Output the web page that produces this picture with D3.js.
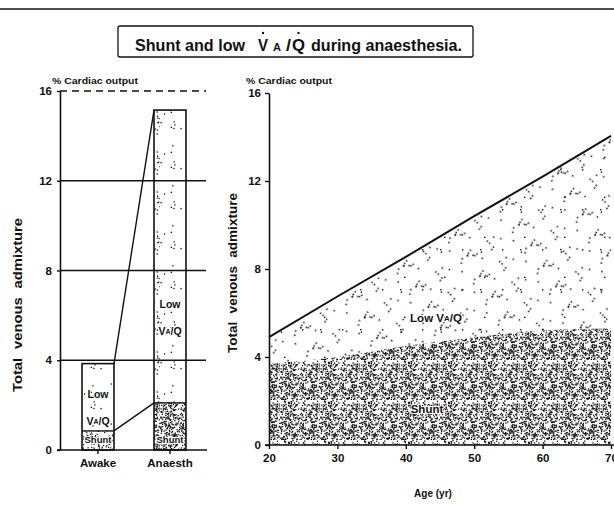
<!DOCTYPE html>
<html>
<head>
<meta charset="utf-8">
<script src="https://cdn.jsdelivr.net/npm/d3@7"></script>
<style>
  body { margin: 0; background: #fff; }
  text { font-family: "Liberation Sans", Arial, sans-serif; font-weight: bold; fill: #111; }
</style>
</head>
<body>
<div id="chart"></div>
<script>
// Left panel: awake vs anaesthetised, % of cardiac output
const categories = ['Awake', 'Anaesth'];
const shuntPct = [0.85, 2.1];
const totalPct = [3.85, 15.15];
const yTicks = [0, 4, 8, 12, 16];

// Right panel: venous admixture against age
const ages = [20, 30, 40, 50, 60, 70];
const shuntByAge = [3.7, 4.0, 4.5, 4.9, 5.2, 5.3];
const totalByAge = [4.9, 6.75, 8.55, 10.4, 12.2, 14.05];

const W = 614, H = 505;

const svg = d3.select('#chart')
  .append('svg')
  .attr('width', W)
  .attr('height', H);

svg.append('rect').attr('width', W).attr('height', H).attr('fill', '#fff');

const defs = svg.append('defs');

// Stipple textures for the shaded regions (fixed seed, texture only).
// When `streak` is set, most dots sit in a thin band so the tile
// repeats as diagonal streaks, like the original print.
function stipple(id, size, count, dot, seed, streak) {
  let s = seed;
  const rand = () => (s = (s * 16807) % 2147483647) / 2147483647;
  const p = defs.append('pattern')
    .attr('id', id)
    .attr('patternUnits', 'userSpaceOnUse')
    .attr('width', size)
    .attr('height', streak ? streak : size);
  if (streak) p.attr('patternTransform', 'rotate(-31)');
  for (let i = 0; i < count; i++) {
    const x = rand() * size;
    const y = streak ? (rand() < 0.8 ? rand() * 7 : rand() * streak) : rand() * size;
    p.append('rect')
      .attr('x', x).attr('y', y)
      .attr('width', dot).attr('height', dot)
      .attr('fill', '#111');
  }
}
stipple('sparse', 40, 20, 1.3, 12345);
stipple('sparseR', 40, 4, 1.4, 321);
stipple('streak', 60, 17, 1.5, 777, 24);
stipple('medium', 40, 180, 1.2, 4242);
stipple('dense', 40, 430, 1.3, 9001);

// top rule
svg.append('line')
  .attr('x1', 0).attr('x2', W).attr('y1', 9).attr('y2', 9)
  .attr('stroke', '#111').attr('stroke-width', 1.6);

// title box
svg.append('rect')
  .attr('x', 118).attr('y', 26).attr('width', 355).attr('height', 31)
  .attr('rx', 2)
  .attr('fill', 'none').attr('stroke', '#111').attr('stroke-width', 1.3);

const titleParts = [
  {t: 'Shunt and low', x: 135, w: 110, fs: 16},
  {t: 'V', x: 258, w: 10, fs: 16, dot: true},
  {t: 'A', x: 273, w: 8, fs: 10},
  {t: '/', x: 286, w: 5, fs: 16},
  {t: 'Q', x: 292, w: 13, fs: 16, dot: true},
  {t: 'during anaesthesia.', x: 311, w: 151, fs: 16},
];
titleParts.forEach(d => {
  svg.append('text')
    .attr('x', d.x).attr('y', 51)
    .attr('font-size', d.fs)
    .attr('textLength', d.w).attr('lengthAdjust', 'spacingAndGlyphs')
    .text(d.t);
  if (d.dot) {
    svg.append('circle')
      .attr('cx', d.x + d.w / 2).attr('cy', 33).attr('r', 1.2)
      .attr('fill', '#111');
  }
});

// helper for "VA/Q" labels with small A
function vaq(sel, x, y, fs) {
  return sel.append('text')
    .attr('x', x).attr('y', y)
    .attr('font-size', fs)
    .attr('text-anchor', 'middle')
    .attr('dominant-baseline', 'middle')
    .attr('stroke', '#fff').attr('stroke-width', 2).attr('paint-order', 'stroke');
}

// ---------------- Left panel ----------------
const yL = d3.scaleLinear().domain([0, 16]).range([450, 91]);
const xL = d3.scaleBand()
  .domain(categories)
  .range([62, 206])
  .paddingInner(0.556)
  .paddingOuter(0.278);

const left = svg.append('g');

// reference lines
left.selectAll('.grid')
  .data(yTicks.filter(v => v > 0))
  .enter()
  .append('line')
  .attr('x1', 60).attr('x2', 206)
  .attr('y1', d => yL(d)).attr('y2', d => yL(d))
  .attr('stroke', '#111')
  .attr('stroke-width', 1.3)
  .attr('stroke-dasharray', d => d === 16 ? '7,5' : null);

const bars = categories.map((c, i) => ({c, shunt: shuntPct[i], total: totalPct[i]}));

// low VA/Q part of each bar
left.selectAll('.low')
  .data(bars)
  .enter()
  .append('rect')
  .attr('x', d => xL(d.c))
  .attr('width', xL.bandwidth())
  .attr('y', d => yL(d.total))
  .attr('height', d => yL(d.shunt) - yL(d.total))
  .attr('fill', 'url(#sparse)');

// shunt part
left.selectAll('.shunt')
  .data(bars)
  .enter()
  .append('rect')
  .attr('x', d => xL(d.c))
  .attr('width', xL.bandwidth())
  .attr('y', d => yL(d.shunt))
  .attr('height', d => yL(0) - yL(d.shunt))
  .attr('fill', (d, i) => i === 0 ? 'url(#medium)' : 'url(#dense)');

// outlines
left.selectAll('.outline')
  .data(bars)
  .enter()
  .append('rect')
  .attr('x', d => xL(d.c))
  .attr('width', xL.bandwidth())
  .attr('y', d => yL(d.total))
  .attr('height', d => yL(0) - yL(d.total))
  .attr('fill', 'none')
  .attr('stroke', '#111')
  .attr('stroke-width', 1.6);

left.selectAll('.split')
  .data(bars)
  .enter()
  .append('line')
  .attr('x1', d => xL(d.c)).attr('x2', d => xL(d.c) + xL.bandwidth())
  .attr('y1', d => yL(d.shunt)).attr('y2', d => yL(d.shunt))
  .attr('stroke', '#111').attr('stroke-width', 1.4);

// connectors between the two bars
['total', 'shunt'].forEach(k => {
  left.append('line')
    .attr('x1', xL(bars[0].c) + xL.bandwidth()).attr('y1', yL(bars[0][k]))
    .attr('x2', xL(bars[1].c)).attr('y2', yL(bars[1][k]))
    .attr('stroke', '#111').attr('stroke-width', 1.4);
});

// labels inside the bars
const lowLabelAt = {Awake: 2.45, Anaesth: 6.45};
bars.forEach(d => {
  const cx = xL(d.c) + xL.bandwidth() / 2;
  vaq(left, cx, yL(lowLabelAt[d.c]), 10.5).text('Low');
  const t = vaq(left, cx, yL(lowLabelAt[d.c] - 1.2), 10.5);
  t.append('tspan').text('V');
  t.append('tspan').attr('font-size', 7).text('A');
  t.append('tspan').text('/Q');
  vaq(left, cx, yL(0.42), 9.5).text('Shunt');
});

// axes
const yAxisL = left.append('g')
  .attr('transform', 'translate(60,0)')
  .call(d3.axisLeft(yL).tickValues(yTicks).tickSize(3).tickSizeOuter(0).tickPadding(5));
const xAxisL = left.append('g')
  .attr('transform', `translate(0,${yL(0)})`)
  .call(d3.axisBottom(xL).tickSize(4).tickSizeOuter(0).tickPadding(5));
xAxisL.select('.domain').attr('d', 'M57,0H207');

function styleAxis(a) {
  a.select('.domain').attr('stroke', '#111').attr('stroke-width', 1.6);
  a.selectAll('.tick line').attr('stroke', '#111').attr('stroke-width', 1.4);
  a.selectAll('.tick text').attr('font-size', 11.5).attr('fill', '#111')
    .attr('font-family', '"Liberation Sans", Arial, sans-serif').attr('font-weight', 'bold');
}
styleAxis(yAxisL);
styleAxis(xAxisL);

left.append('text')
  .attr('x', 52).attr('y', 84)
  .attr('font-size', 8.5)
  .attr('textLength', 86).attr('lengthAdjust', 'spacingAndGlyphs')
  .text('% Cardiac output');

left.append('text')
  .attr('transform', 'translate(22,305) rotate(-90)')
  .attr('text-anchor', 'middle')
  .attr('font-size', 12)
  .attr('word-spacing', 4)
  .attr('textLength', 174).attr('lengthAdjust', 'spacingAndGlyphs')
  .text('Total venous admixture');

// ---------------- Right panel ----------------
const xR = d3.scaleLinear().domain([20, 70]).range([269, 611]);
const yR = d3.scaleLinear().domain([0, 16]).range([445, 93]);

const right = svg.append('g');
const rows = ages.map((a, i) => ({a, shunt: shuntByAge[i], total: totalByAge[i]}));

const lowArea = d3.area()
  .x(d => xR(d.a))
  .y0(d => yR(d.shunt))
  .y1(d => yR(d.total))
  .curve(d3.curveMonotoneX);

right.append('path').datum(rows).attr('d', lowArea).attr('fill', 'url(#sparseR)');
right.append('path').datum(rows).attr('d', lowArea).attr('fill', 'url(#streak)');
right.append('path')
  .datum(rows)
  .attr('d', d3.area().x(d => xR(d.a)).y0(yR(0)).y1(d => yR(d.shunt)).curve(d3.curveMonotoneX))
  .attr('fill', 'url(#dense)');

right.append('path')
  .datum(rows)
  .attr('d', d3.line().x(d => xR(d.a)).y(d => yR(d.total)))
  .attr('fill', 'none')
  .attr('stroke', '#111')
  .attr('stroke-width', 2);

const yAxisR = right.append('g')
  .attr('transform', 'translate(269,0)')
  .call(d3.axisLeft(yR).tickValues(yTicks).tickSize(4).tickSizeOuter(0).tickPadding(4));
const xAxisR = right.append('g')
  .attr('transform', `translate(0,${yR(0)})`)
  .call(d3.axisBottom(xR).tickValues(ages).tickSize(4).tickSizeOuter(0).tickPadding(5));
xAxisR.select('.domain').attr('d', 'M265,0H614');
styleAxis(yAxisR);
styleAxis(xAxisR);

right.append('text')
  .attr('x', 246).attr('y', 84)
  .attr('font-size', 8.5)
  .attr('textLength', 86).attr('lengthAdjust', 'spacingAndGlyphs')
  .text('% Cardiac output');

right.append('text')
  .attr('transform', 'translate(237,273) rotate(-90)')
  .attr('text-anchor', 'middle')
  .attr('font-size', 12)
  .attr('word-spacing', 4)
  .attr('textLength', 160).attr('lengthAdjust', 'spacingAndGlyphs')
  .text('Total venous admixture');

right.append('text')
  .attr('x', 433).attr('y', 497)
  .attr('text-anchor', 'middle')
  .attr('font-size', 10)
  .text('Age (yr)');

const lowR = vaq(right, 436, 319, 11.5);
lowR.append('tspan').text('Low V');
lowR.append('tspan').attr('font-size', 8).text('A');
lowR.append('tspan').text('/Q');

vaq(right, 427, 410, 11.5).text('Shunt');
</script>
</body>
</html>
